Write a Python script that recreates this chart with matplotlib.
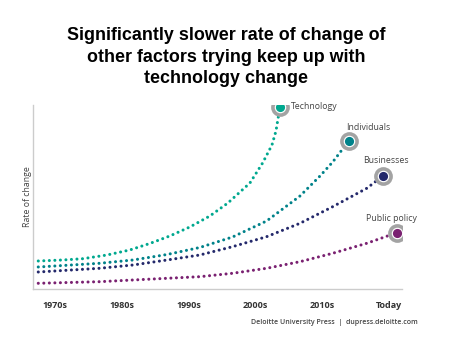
import matplotlib
matplotlib.use("Agg")
import matplotlib.pyplot as plt

# x in decades: 0 = 1970s ... 5 = Today ; y = relative rate of change
tick_labels = ["1970s", "1980s", "1990s", "2000s", "2010s", "Today"]

tech_x = [-0.25, 0.12, 0.42, 0.78, 1.12, 1.42, 1.72, 2.02, 2.32, 2.59, 2.92, 3.11, 3.25, 3.31, 3.34, 3.37]
tech_y = [28, 29, 30.3, 34, 39, 45.5, 53, 62, 73, 86, 106, 126, 144, 158, 170, 182]

ind_x = [-0.25, 0.67, 1.17, 1.68, 2.17, 2.66, 3.17, 3.67, 3.97, 4.16, 4.40]
ind_y = [22, 25.7, 29, 34.5, 41.5, 52, 68, 93, 113, 127, 148]

bus_x = [-0.25, 0.67, 1.17, 1.68, 2.17, 2.66, 3.17, 3.67, 4.16, 4.67, 4.91]
bus_y = [17, 20.7, 24, 29, 34, 42.3, 52.3, 65.7, 82.3, 100.7, 113]

pub_x = [-0.25, 0.67, 1.17, 1.68, 2.17, 2.66, 3.17, 3.67, 4.16, 4.67, 5.12]
pub_y = [5.7, 7.3, 9, 10.7, 12.3, 15.7, 20.7, 27.3, 35.7, 45.7, 56.3]

series_names = ["Technology", "Individuals", "Businesses", "Public policy"]
colors = ["#00a88f", "#00828a", "#24296b", "#7a2171"]

fig = plt.figure(figsize=(4.52, 3.57), dpi=100)
ax = fig.add_axes([0.073, 0.1905, 0.816, 0.5154])

series = [(tech_x, tech_y), (ind_x, ind_y), (bus_x, bus_y), (pub_x, pub_y)]
for (xs, ys), c in zip(series, colors):
    ax.plot(xs, ys, color=c, lw=2.2, linestyle=(0, (0.01, 1.8)),
            dash_capstyle="round", solid_capstyle="round", zorder=2)
    ax.plot(xs[-1], ys[-1], "o", ms=13.5, color="#a3a3a3", mec="none", zorder=3)
    ax.plot(xs[-1], ys[-1], "o", ms=8.3, color="white", mec="none", zorder=4)
    ax.plot(xs[-1], ys[-1], "o", ms=6.6, color=c, mec="none", zorder=5)

lab_font = dict(family="Open Sans", fontsize=6.3, color="#444444")
ax.annotate(series_names[0], (tech_x[-1], tech_y[-1]), xytext=(8, 0), textcoords="offset points",
            ha="left", va="center", **lab_font)
ax.annotate(series_names[1], (ind_x[-1], ind_y[-1]), xytext=(14, 10), textcoords="offset points",
            ha="center", va="center", **lab_font)
ax.annotate(series_names[2], (bus_x[-1], bus_y[-1]), xytext=(2, 11.5), textcoords="offset points",
            ha="center", va="center", **lab_font)
ax.annotate(series_names[3], (pub_x[-1], pub_y[-1]), xytext=(-4, 10), textcoords="offset points",
            ha="center", va="center", **lab_font)

ax.set_xlim(-0.329, 5.195)
ax.set_ylim(0, 184)
ax.set_xticks(range(len(tick_labels)))
ax.set_xticklabels(tick_labels, family="Open Sans", fontweight="bold", fontsize=6.5, color="#333333")
ax.tick_params(axis="x", length=0, pad=9)
ax.set_yticks([])
for s in ["top", "right"]:
    ax.spines[s].set_visible(False)
for s in ["left", "bottom"]:
    ax.spines[s].set_color("#cccccc")
    ax.spines[s].set_linewidth(1.0)
ax.set_ylabel("Rate of change", family="Open Sans", fontsize=6.3, color="#444444", labelpad=1)

fig.text(0.5, 1 - 57 / 357, "Significantly slower rate of change of\nother factors trying keep up with\ntechnology change",
         ha="center", va="center", family="Liberation Sans", fontweight="bold", fontsize=12.9,
         linespacing=1.38, color="black")
fig.text(418 / 452, 1 - 323 / 357, "Deloitte University Press  |  dupress.deloitte.com",
         ha="right", va="center", family="Open Sans", fontweight="semibold", fontsize=5.0, color="#444444")

fig.savefig("out.png", dpi=100)
